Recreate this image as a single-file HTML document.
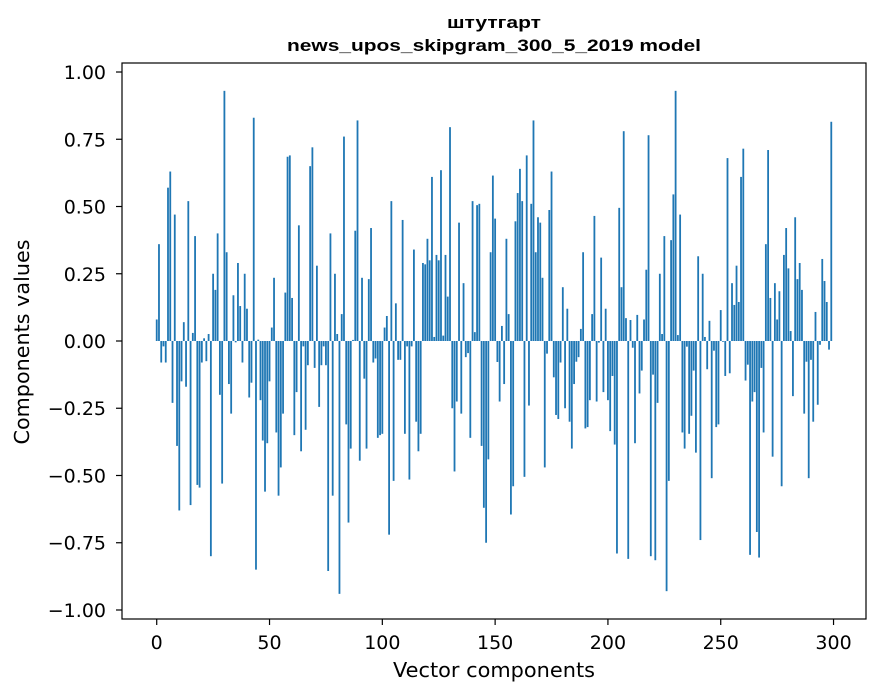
<!DOCTYPE html>
<html><head><meta charset="utf-8"><style>
html,body{margin:0;padding:0;background:#fff;}
svg{display:block;font-family:"DejaVu Sans","Liberation Sans",sans-serif;}
</style></head><body>
<svg id="chart" width="880" height="696" viewBox="0 0 880 696" xmlns="http://www.w3.org/2000/svg">
<rect x="0" y="0" width="880" height="696" fill="#fff"/>
<text x="494" y="28" text-anchor="middle" font-size="17" font-weight="bold" font-family="Liberation Sans, DejaVu Sans, sans-serif" textLength="94" lengthAdjust="spacingAndGlyphs">штутгарт</text>
<text x="494" y="51" text-anchor="middle" font-size="17" font-weight="bold" font-family="Liberation Sans, DejaVu Sans, sans-serif" textLength="414" lengthAdjust="spacingAndGlyphs">news_upos_skipgram_300_5_2019 model</text>
<g id="bars"></g>
<g id="axes"></g>
<text x="494" y="677" text-anchor="middle" font-size="20" textLength="202" lengthAdjust="spacingAndGlyphs">Vector components</text>
<text transform="translate(29,342) rotate(-90)" text-anchor="middle" font-size="20" textLength="205" lengthAdjust="spacingAndGlyphs">Components values</text>
</svg>
<script>
const values = [
0.08,0.36,-0.08,-0.02,-0.08,0.57,0.63,-0.23,0.47,-0.39,
-0.63,-0.15,0.07,-0.17,0.52,-0.61,0.03,0.39,-0.535,-0.545,
-0.08,0.01,-0.075,0.026,-0.80,0.25,0.19,0.40,-0.20,-0.53,
0.93,0.33,-0.16,-0.27,0.17,-0.005,0.29,0.13,-0.08,0.25,
0.12,-0.21,-0.155,0.83,-0.85,0.005,-0.22,-0.37,-0.56,-0.38,
-0.15,0.05,0.235,-0.34,-0.575,-0.47,-0.27,0.18,0.685,0.69,
0.16,-0.35,-0.19,0.43,-0.41,-0.02,-0.33,-0.09,0.65,0.72,
-0.10,0.28,-0.245,-0.09,-0.02,-0.09,-0.855,0.40,-0.575,0.25,
0.026,-0.94,0.10,0.76,-0.31,-0.675,-0.40,0.004,0.41,0.82,
-0.445,0.235,-0.14,-0.40,0.23,0.42,-0.08,-0.065,-0.36,-0.35,
-0.345,0.05,0.093,-0.72,0.52,-0.52,0.14,-0.07,-0.07,0.45,
-0.345,-0.02,-0.515,-0.02,0.34,-0.30,-0.41,-0.345,0.29,0.285,
0.38,0.30,0.61,0.015,0.32,0.30,0.635,0.02,0.32,0.165,
0.795,-0.25,-0.485,-0.225,0.44,-0.27,0.215,-0.06,-0.045,-0.36,
0.52,0.033,0.505,0.51,-0.39,-0.62,-0.75,-0.44,0.33,0.615,
0.455,-0.078,-0.225,0.056,-0.16,0.38,0.10,-0.645,-0.54,0.445,
0.55,0.64,0.52,-0.505,0.69,-0.24,0.51,0.82,0.33,0.46,
0.44,0.235,-0.47,-0.047,0.487,0.63,-0.135,-0.275,-0.29,-0.08,
0.20,-0.25,0.12,-0.30,-0.40,-0.16,-0.077,-0.06,0.045,0.33,
-0.325,-0.32,-0.22,0.10,0.465,-0.225,-0.006,0.31,-0.19,0.12,
-0.22,-0.335,-0.13,-0.385,-0.79,0.495,0.20,0.78,0.085,-0.81,
0.078,-0.025,-0.38,0.097,-0.195,-0.11,0.08,0.265,0.765,-0.80,
-0.125,-0.815,-0.23,0.25,0.026,0.39,-0.93,-0.52,0.375,0.545,
0.93,0.022,0.47,-0.34,-0.40,-0.021,-0.345,-0.278,-0.11,-0.415,
0.315,-0.74,0.25,0.015,-0.105,0.075,-0.51,-0.036,-0.32,-0.31,
0.115,-0.003,-0.13,0.68,-0.12,0.215,0.134,0.28,0.145,0.61,
0.715,-0.147,-0.088,-0.795,-0.225,-0.19,-0.71,-0.805,-0.10,-0.34,
0.36,0.71,0.16,-0.43,0.215,0.08,0.185,-0.54,0.32,0.42,
0.27,0.037,-0.205,0.46,0.23,0.29,0.19,-0.27,-0.077,-0.51,
-0.07,-0.30,0.108,-0.237,-0.014,0.305,0.223,0.145,-0.032,0.815
];
const xTicks = [0,50,100,150,200,250,300];
const yTicks = [-1.0,-0.75,-0.5,-0.25,0,0.25,0.5,0.75,1.0];
const yTickLabels = ["\u22121.00","\u22120.75","\u22120.50","\u22120.25","0.00","0.25","0.50","0.75","1.00"];

const NS="http://www.w3.org/2000/svg";
const L=122,R=866,T=63,B=619;
const xmin=-15.39,xmax=314.39,ymin=-1.0335,ymax=1.0335;
function xs(v){return L+(v-xmin)/(xmax-xmin)*(R-L);}
function ys(v){return B-(v-ymin)/(ymax-ymin)*(B-T);}
const bars=document.getElementById('bars');
values.forEach((v,i)=>{
  const r=document.createElementNS(NS,'rect');
  const x0=xs(i-0.4),x1=xs(i+0.4);
  const y0=ys(Math.max(v,0)),y1=ys(Math.min(v,0));
  r.setAttribute('x',x0);r.setAttribute('width',x1-x0);
  r.setAttribute('y',y0);r.setAttribute('height',Math.max(y1-y0,0.3));
  r.setAttribute('fill','#1f77b4');
  
  
  bars.appendChild(r);
});
const ax=document.getElementById('axes');
const frame=document.createElementNS(NS,'rect');
frame.setAttribute('x',L);frame.setAttribute('y',T);frame.setAttribute('width',R-L);frame.setAttribute('height',B-T);
frame.setAttribute('fill','none');frame.setAttribute('stroke','#000');frame.setAttribute('stroke-width','1.2');


ax.appendChild(frame);
xTicks.forEach(t=>{
  const x=xs(t);
  const l=document.createElementNS(NS,'line');
  l.setAttribute('x1',x);l.setAttribute('x2',x);l.setAttribute('y1',B);l.setAttribute('y2',B+6);
  l.setAttribute('stroke','#000');l.setAttribute('stroke-width','1.2');
  
  
  ax.appendChild(l);
  const tx=document.createElementNS(NS,'text');
  tx.setAttribute('x',x);tx.setAttribute('y',649);tx.setAttribute('text-anchor','middle');tx.setAttribute('font-size','19');
  tx.textContent=t;
  
  
  ax.appendChild(tx);
});
yTicks.forEach((t,i)=>{
  const y=ys(t);
  const l=document.createElementNS(NS,'line');
  l.setAttribute('x1',L-6);l.setAttribute('x2',L);l.setAttribute('y1',y);l.setAttribute('y2',y);
  l.setAttribute('stroke','#000');l.setAttribute('stroke-width','1.2');
  
  
  ax.appendChild(l);
  const tx=document.createElementNS(NS,'text');
  tx.setAttribute('x',106);tx.setAttribute('y',y+7);tx.setAttribute('text-anchor','end');tx.setAttribute('font-size','19');
  tx.textContent=yTickLabels[i];
  
  
  ax.appendChild(tx);
});
</script>
</body></html>
